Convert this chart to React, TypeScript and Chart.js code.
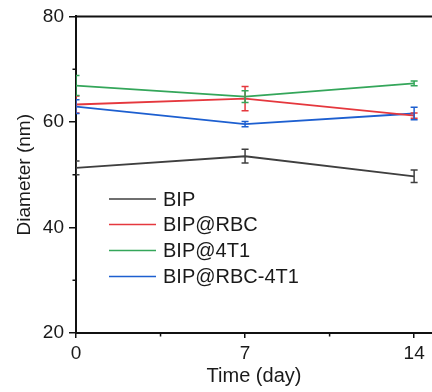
import React, { useEffect, useRef } from "react";
import { Chart, registerables } from "chart.js";

Chart.register(...registerables);

const days = [0, 7, 14];
const xTicks = [0, 7, 14];
const xMinorTicks = [3.5, 10.5];
const yTicks = [20, 40, 60, 80];
const yMinorTicks = [30, 50, 70];

const seriesNames = ["BIP", "BIP@RBC", "BIP@4T1", "BIP@RBC-4T1"];
const seriesColors = ["#3f3f3f", "#e5383e", "#34a65a", "#1d5fd0"];

const bipMean = [51.3, 53.5, 49.7];
const bipErr = [1.3, 1.3, 1.2];
const rbcMean = [63.3, 64.4, 61.2];
const rbcErr = [1.6, 2.3, 0.5];
const t1Mean = [66.9, 64.8, 67.3];
const t1Err = [1.9, 1.1, 0.45];
const rbcT1Mean = [62.9, 59.6, 61.6];
const rbcT1Err = [1.3, 0.5, 1.2];

const means = [bipMean, rbcMean, t1Mean, rbcT1Mean];
const errs = [bipErr, rbcErr, t1Err, rbcT1Err];

const FONT = "'Liberation Sans', Arial, sans-serif";

const errorBarPlugin = {
  id: "errorBars",
  afterDatasetsDraw(chart: any) {
    const ctx = chart.ctx;
    const yScale = chart.scales.y;
    const area = chart.chartArea;
    ctx.save();
    ctx.beginPath();
    ctx.rect(area.left, area.top, area.right - area.left, area.bottom - area.top);
    ctx.clip();
    chart.data.datasets.forEach((ds: any, di: number) => {
      const meta = chart.getDatasetMeta(di);
      const e = ds.errors as number[];
      meta.data.forEach((pt: any, i: number) => {
        const v = ds.data[i].y;
        const x = pt.x;
        const yt = yScale.getPixelForValue(v + e[i]);
        const yb = yScale.getPixelForValue(v - e[i]);
        ctx.strokeStyle = ds.borderColor;
        ctx.lineWidth = 1.5;
        ctx.beginPath();
        ctx.moveTo(x, yt);
        ctx.lineTo(x, yb);
        ctx.moveTo(x - 3.5, yt);
        ctx.lineTo(x + 3.5, yt);
        ctx.moveTo(x - 3.5, yb);
        ctx.lineTo(x + 3.5, yb);
        ctx.stroke();
      });
    });
    ctx.restore();
  },
};

const framePlugin = {
  id: "frame",
  afterDraw(chart: any) {
    const ctx = chart.ctx;
    const area = chart.chartArea;
    const xs = chart.scales.x;
    const ys = chart.scales.y;
    ctx.save();
    ctx.strokeStyle = "#111";
    ctx.lineWidth = 2;
    ctx.beginPath();
    ctx.moveTo(area.left - 1, area.top);
    ctx.lineTo(area.right, area.top);
    ctx.stroke();
    ctx.lineWidth = 1.5;
    ctx.beginPath();
    yMinorTicks.forEach((v) => {
      const y = ys.getPixelForValue(v);
      ctx.moveTo(area.left, y);
      ctx.lineTo(area.left - 3.5, y);
    });
    xMinorTicks.forEach((v) => {
      const x = xs.getPixelForValue(v);
      ctx.moveTo(x, area.bottom);
      ctx.lineTo(x, area.bottom + 3.5);
    });
    ctx.stroke();

    // legend
    const lx0 = 109;
    const lx1 = 156;
    const tx = 163;
    const rows = [199, 224.5, 250.5, 276.5];
    ctx.font = `20px ${FONT}`;
    ctx.textBaseline = "middle";
    ctx.textAlign = "left";
    seriesNames.forEach((name, i) => {
      ctx.strokeStyle = seriesColors[i];
      ctx.lineWidth = 1.5;
      ctx.beginPath();
      ctx.moveTo(lx0, rows[i]);
      ctx.lineTo(lx1, rows[i]);
      ctx.stroke();
      ctx.fillStyle = "#1a1a1a";
      ctx.fillText(name, tx, rows[i] + 1);
    });
    ctx.restore();
  },
};

export default function App() {
  const ref = useRef<HTMLCanvasElement | null>(null);

  useEffect(() => {
    if (!ref.current) return;
    const datasets = seriesNames.map((name, si) => ({
      label: name,
      data: days.map((d, i) => ({ x: d, y: means[si][i] })),
      errors: errs[si],
      borderColor: seriesColors[si],
      backgroundColor: seriesColors[si],
      borderWidth: 1.8,
      pointRadius: 0,
      tension: 0,
    }));
    const chart = new Chart(ref.current, {
      type: "line",
      data: { datasets } as any,
      options: {
        responsive: false,
        animation: false,
        devicePixelRatio: 1,
        layout: { padding: { top: 16, right: 0, left: 0, bottom: 0 } },
        plugins: { legend: { display: false }, tooltip: { enabled: false } },
        scales: {
          x: {
            type: "linear",
            min: 0,
            max: 14.74,
            afterBuildTicks: (s: any) => {
              s.ticks = xTicks.map((v) => ({ value: v }));
            },
            afterFit: (s: any) => {
              s.height = 59;
            },
            ticks: {
              font: { family: FONT, size: 19 },
              color: "#1a1a1a",
              padding: 4,
              maxRotation: 0,
            },
            grid: {
              drawOnChartArea: false,
              drawTicks: true,
              tickLength: 5,
              color: "#111",
              lineWidth: 1.5,
            },
            border: { color: "#111", width: 2 },
            title: {
              display: true,
              text: "Time (day)",
              font: { family: FONT, size: 20 },
              color: "#1a1a1a",
              padding: { top: 0, bottom: 4 },
            },
          },
          y: {
            type: "linear",
            min: 20,
            max: 80,
            afterBuildTicks: (s: any) => {
              s.ticks = yTicks.map((v) => ({ value: v }));
            },
            afterFit: (s: any) => {
              s.width = 76;
            },
            ticks: {
              font: { family: FONT, size: 19 },
              color: "#1a1a1a",
              padding: 5,
            },
            grid: {
              drawOnChartArea: false,
              drawTicks: true,
              tickLength: 7,
              color: "#111",
              lineWidth: 1.5,
            },
            border: { color: "#111", width: 2 },
            title: {
              display: true,
              text: "Diameter (nm)",
              font: { family: FONT, size: 19 },
              color: "#1a1a1a",
              padding: { top: 13, bottom: 0 },
            },
          },
        },
      },
      plugins: [errorBarPlugin, framePlugin],
    } as any);
    return () => chart.destroy();
  }, []);

  return (
    <div style={{ position: "fixed", left: 0, top: 0, width: 432, height: 392, background: "#fff" }}>
      <canvas ref={ref} width={432} height={392} style={{ width: 432, height: 392, display: "block" }} />
    </div>
  );
}
